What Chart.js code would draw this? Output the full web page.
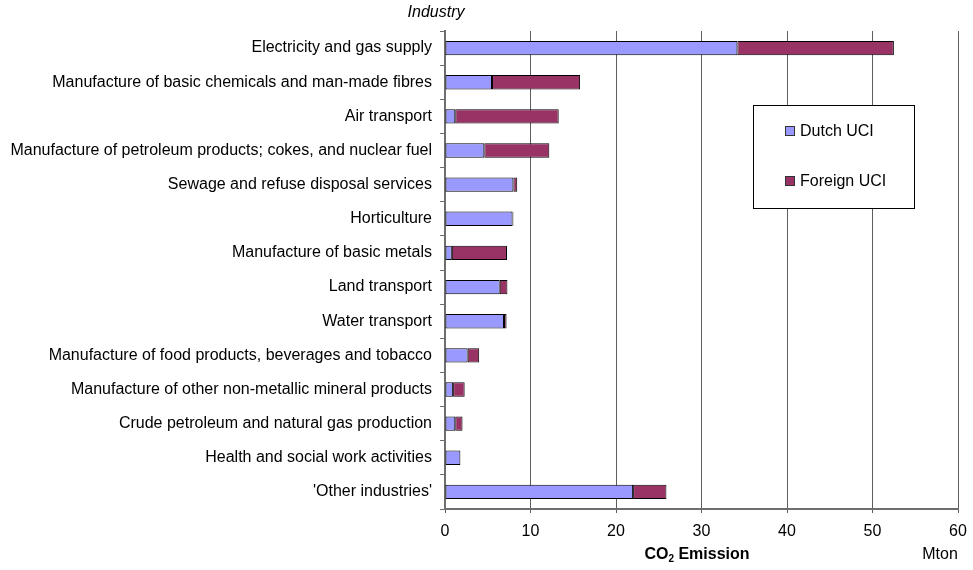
<!DOCTYPE html>
<html>
<head>
<meta charset="utf-8">
<script src="https://cdn.jsdelivr.net/npm/chart.js@4/dist/chart.umd.min.js"></script>
<style>
html,body{margin:0;padding:0;background:#fff;}
#wrap{width:973px;height:570px;position:relative;}
</style>
</head>
<body>
<div id="wrap"><canvas id="c" width="973" height="570"></canvas></div>
<script>
const categories = [
  "Electricity and gas supply",
  "Manufacture of basic chemicals and man-made fibres",
  "Air transport",
  "Manufacture of petroleum products; cokes, and nuclear fuel",
  "Sewage and refuse disposal services",
  "Horticulture",
  "Manufacture of basic metals",
  "Land transport",
  "Water transport",
  "Manufacture of food products, beverages and tobacco",
  "Manufacture of other non-metallic mineral products",
  "Crude petroleum and natural gas production",
  "Health and social work activities",
  "'Other industries'"
];
const dutchUCI   = [34.2, 5.5, 1.2, 4.6, 8.0, 7.9, 0.8, 6.4, 6.9, 2.65, 0.95, 1.2, 1.8, 22.0];
const foreignUCI = [18.3, 10.3, 12.1, 7.6, 0.45, 0.1, 6.45, 0.9, 0.3, 1.35, 1.35, 0.85, 0, 3.9];
const xTicks = [0, 10, 20, 30, 40, 50, 60];
const seriesNames = ["Dutch UCI", "Foreign UCI"];

const FONT = "'Liberation Sans', Arial, sans-serif";
const colDutch = "#9999FF", colForeign = "#993366";

const extras = {
  id: 'extras',
  afterDraw(chart) {
    const ctx = chart.ctx, ca = chart.chartArea;
    ctx.save();
    // "Industry" header
    ctx.fillStyle = '#000';
    ctx.font = "italic 16px " + FONT;
    ctx.textAlign = 'center';
    ctx.textBaseline = 'middle';
    ctx.fillText("Industry", ca.left - 9, 13);
    // x axis title with subscript
    ctx.font = "bold 16px " + FONT;
    ctx.textAlign = 'left';
    const w1 = ctx.measureText("CO").width;
    ctx.font = "bold 10px " + FONT;
    const w2 = ctx.measureText("2").width;
    ctx.font = "bold 16px " + FONT;
    const w3 = ctx.measureText(" Emission").width;
    const tot = w1 + w2 + w3;
    let x0 = 697 - tot / 2, y0 = 555;
    ctx.fillText("CO", x0, y0);
    ctx.font = "bold 10px " + FONT;
    ctx.fillText("2", x0 + w1, y0 + 4);
    ctx.font = "bold 16px " + FONT;
    ctx.fillText(" Emission", x0 + w1 + w2, y0);
    // Mton
    ctx.font = "16px " + FONT;
    ctx.textAlign = 'center';
    ctx.fillText("Mton", 940, 555);
    // legend box
    const lx = 753, ly = ca.top + 74, lw = 161, lh = 103;
    ctx.fillStyle = '#fff';
    ctx.fillRect(lx, ly, lw, lh);
    ctx.strokeStyle = '#000';
    ctx.lineWidth = 1;
    ctx.strokeRect(lx + 0.5, ly + 0.5, lw, lh);
    const items = [[seriesNames[0], colDutch, 26], [seriesNames[1], colForeign, 76]];
    items.forEach(([t, c, dy]) => {
      ctx.fillStyle = c;
      ctx.fillRect(lx + 32, ly + dy - 5, 10, 10);
      ctx.strokeStyle = '#333';
      ctx.strokeRect(lx + 32.5, ly + dy - 4.5, 9, 9);
      ctx.fillStyle = '#000';
      ctx.font = "16px " + FONT;
      ctx.textAlign = 'left';
      ctx.textBaseline = 'middle';
      ctx.fillText(t, lx + 47, ly + dy + 1);
    });
    ctx.restore();
  }
};

new Chart(document.getElementById('c'), {
  type: 'bar',
  data: {
    labels: categories,
    datasets: [
      { label: seriesNames[0], data: dutchUCI, backgroundColor: colDutch, borderColor: '#000', borderWidth: 1, borderSkipped: false },
      { label: seriesNames[1], data: foreignUCI, backgroundColor: colForeign, borderColor: '#000', borderWidth: 1, borderSkipped: false }
    ]
  },
  options: {
    indexAxis: 'y',
    responsive: false,
    animation: false,
    devicePixelRatio: 1,
    categoryPercentage: 1,
    barPercentage: 0.42,
    layout: { padding: { top: 31, right: 15, left: 0, bottom: 0 } },
    plugins: { legend: { display: false }, tooltip: { enabled: false } },
    scales: {
      x: {
        stacked: true,
        min: 0, max: 60,
        afterBuildTicks(s) { s.ticks = xTicks.map(v => ({ value: v })); },
        afterFit(s) { s.height = 61; s.paddingRight = 0; s.paddingLeft = 0; },
        ticks: { color: '#000', font: { family: FONT, size: 16 }, padding: 9, maxRotation: 0 },
        grid: { color: '#5e5e5e', lineWidth: 1, drawTicks: true, tickLength: 4, tickColor: '#5e5e5e' },
        border: { display: true, color: '#6e6e6e', width: 2 }
      },
      y: {
        stacked: true,
        afterFit(s) { s.width = 445; s.paddingTop = 0; s.paddingBottom = 0; },
        ticks: { color: '#000', font: { family: FONT, size: 16 }, padding: 8, autoSkip: false },
        grid: { offset: true, drawOnChartArea: false, drawTicks: true, tickLength: 5, color: '#6e6e6e' },
        border: { display: true, color: '#6e6e6e', width: 2 }
      }
    }
  },
  plugins: [extras]
});
</script>
</body>
</html>
